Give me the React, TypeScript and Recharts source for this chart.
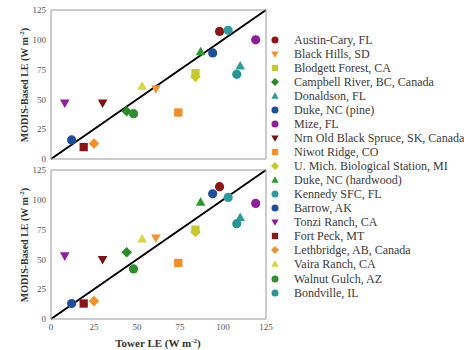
import React from "react";
import { ScatterChart, Scatter, XAxis, YAxis, ReferenceLine } from "recharts";

const sites = [
  "Austin-Cary, FL",
  "Black Hills, SD",
  "Blodgett Forest, CA",
  "Campbell River, BC, Canada",
  "Donaldson, FL",
  "Duke, NC (pine)",
  "Mize, FL",
  "Nrn Old Black Spruce, SK, Canada",
  "Niwot Ridge, CO",
  "U. Mich. Biological Station, MI",
  "Duke, NC (hardwood)",
  "Kennedy SFC, FL",
  "Barrow, AK",
  "Tonzi Ranch, CA",
  "Fort Peck, MT",
  "Lethbridge, AB, Canada",
  "Vaira Ranch, CA",
  "Walnut Gulch, AZ",
  "Bondville, IL",
];

const siteShapes = [
  "circle", "down", "square", "diamond", "up", "circle", "circle", "down", "square", "diamond",
  "up", "circle", "circle", "down", "square", "diamond", "up", "circle", "circle",
];

const siteColors = [
  "#8b1616", "#f29430", "#c6c63a", "#2b8a25", "#2e9c9c", "#1f4e9a", "#8e1e99", "#7c1212", "#f28d28", "#c8c828",
  "#2e9a2e", "#2e9c9c", "#1f4e9a", "#8e1e99", "#8b1414", "#f2902a", "#d6d640", "#2f8f2f", "#2a9595",
];

const topTower = [98, 61, 84, 44, 110, 94, 119, 30, 74, 84, 87, 103, 12, 8, 19, 25, 53, 48, 108];
const topModis = [107, 59, 72, 40, 78, 89, 100, 47, 39, 69, 90, 108, 16, 47, 10, 13, 61, 38, 71];
const bottomTower = [98, 61, 84, 44, 110, 94, 119, 30, 74, 84, 87, 103, 12, 8, 19, 25, 53, 48, 108];
const bottomModis = [111, 68, 75, 56, 85, 105, 97, 50, 47, 73, 98, 102, 13, 53, 13, 15, 67, 42, 80];

const ticks = [0, 25, 50, 75, 100, 125];

const serif = "'Liberation Serif', 'Times New Roman', serif";

function Glyph({ cx, cy, kind, color, r }: { cx: number; cy: number; kind: string; color: string; r: number }) {
  if (kind === "circle") return <circle cx={cx} cy={cy} r={r} fill={color} />;
  if (kind === "square") {
    const s = r * 0.9;
    return <rect x={cx - s} y={cy - s} width={2 * s} height={2 * s} fill={color} />;
  }
  if (kind === "diamond") {
    const d = r * 1.15;
    return <polygon points={`${cx},${cy - d} ${cx + d},${cy} ${cx},${cy + d} ${cx - d},${cy}`} fill={color} />;
  }
  if (kind === "up") {
    return (
      <polygon
        points={`${cx},${cy - r * 1.1} ${cx + r * 1.05},${cy + r * 0.75} ${cx - r * 1.05},${cy + r * 0.75}`}
        fill={color}
      />
    );
  }
  return (
    <polygon
      points={`${cx},${cy + r * 1.1} ${cx + r * 1.05},${cy - r * 0.75} ${cx - r * 1.05},${cy - r * 0.75}`}
      fill={color}
    />
  );
}

const renderPoint = (props: any) => {
  const i = props.payload.i;
  return <Glyph cx={props.cx} cy={props.cy} kind={siteShapes[i]} color={siteColors[i]} r={4.6} />;
};

const tickStyle = { fontSize: 9, fill: "#555", fontFamily: serif };

function Panel({ xs, ys, top, height, showX }: { xs: number[]; ys: number[]; top: number; height: number; showX: boolean }) {
  const data = xs.map((x, i) => ({ x, y: ys[i], i }));
  return (
    <div style={{ position: "absolute", left: 0, top }}>
      <ScatterChart width={280} height={height} margin={{ top: 10, right: 14, bottom: showX ? 11 : 0, left: 0 }}>
        <XAxis
          type="number"
          dataKey="x"
          domain={[0, 125]}
          ticks={ticks}
          height={showX ? 20 : 11}
          tick={showX ? tickStyle : false}
          tickLine={false}
          tickSize={3}
          tickMargin={2}
          axisLine={{ stroke: "#999" }}
        />
        <YAxis
          type="number"
          dataKey="y"
          domain={[0, 125]}
          ticks={ticks}
          width={51}
          tick={tickStyle}
          tickLine={false}
          tickSize={3}
          tickMargin={2}
          axisLine={{ stroke: "#999" }}
        />
        <XAxis
          xAxisId="t"
          orientation="top"
          type="number"
          domain={[0, 125]}
          ticks={ticks}
          height={1}
          mirror
          tick={false}
          tickSize={3}
          tickLine={{ stroke: "#999" }}
          axisLine={{ stroke: "#999" }}
        />
        <YAxis
          yAxisId="r"
          orientation="right"
          type="number"
          domain={[0, 125]}
          ticks={ticks}
          width={1}
          mirror
          tick={false}
          tickSize={3}
          tickLine={{ stroke: "#999" }}
          axisLine={{ stroke: "#999" }}
        />
        <Scatter data={data} shape={renderPoint} isAnimationActive={false} />
        <ReferenceLine
          segment={[{ x: 0, y: 0 }, { x: 125, y: 125 }]}
          stroke="#000"
          strokeWidth={2}
          ifOverflow="visible"
        />
      </ScatterChart>
    </div>
  );
}

const yLabelStyle: React.CSSProperties = {
  position: "absolute",
  left: 24,
  transform: "translate(-50%, -50%) rotate(-90deg)",
  whiteSpace: "nowrap",
  fontFamily: serif,
  fontWeight: "bold",
  fontSize: 10,
  color: "#333",
};

export default function App() {
  return (
    <div style={{ position: "absolute", left: 0, top: 0, width: 464, height: 350, background: "#fff" }}>
      <Panel xs={topTower} ys={topModis} top={0} height={170} showX={false} />
      <Panel xs={bottomTower} ys={bottomModis} top={160} height={190} showX={true} />
      <div style={{ ...yLabelStyle, top: 85 }}>
        MODIS-Based LE (W m<sup style={{ fontSize: 7 }}>-2</sup>)
      </div>
      <div style={{ ...yLabelStyle, top: 245 }}>
        MODIS-Based LE (W m<sup style={{ fontSize: 7 }}>-2</sup>)
      </div>
      <div
        style={{
          position: "absolute",
          left: 158,
          top: 343,
          transform: "translate(-50%, -50%)",
          whiteSpace: "nowrap",
          fontFamily: serif,
          fontWeight: "bold",
          fontSize: 11,
          color: "#333",
        }}
      >
        Tower LE (W m<sup style={{ fontSize: 7 }}>-2</sup>)
      </div>
      {sites.map((name, i) => (
        <div
          key={name}
          style={{
            position: "absolute",
            left: 269,
            top: 32.5 + i * 14.06,
            height: 14,
            display: "flex",
            alignItems: "center",
            whiteSpace: "nowrap",
          }}
        >
          <svg width={12} height={14} style={{ display: "block" }}>
            <Glyph cx={6} cy={7} kind={siteShapes[i]} color={siteColors[i]} r={3.5} />
          </svg>
          <span style={{ marginLeft: 13, fontFamily: serif, fontSize: 12, color: "#3a3a3a", lineHeight: "14px" }}>
            {name}
          </span>
        </div>
      ))}
    </div>
  );
}
